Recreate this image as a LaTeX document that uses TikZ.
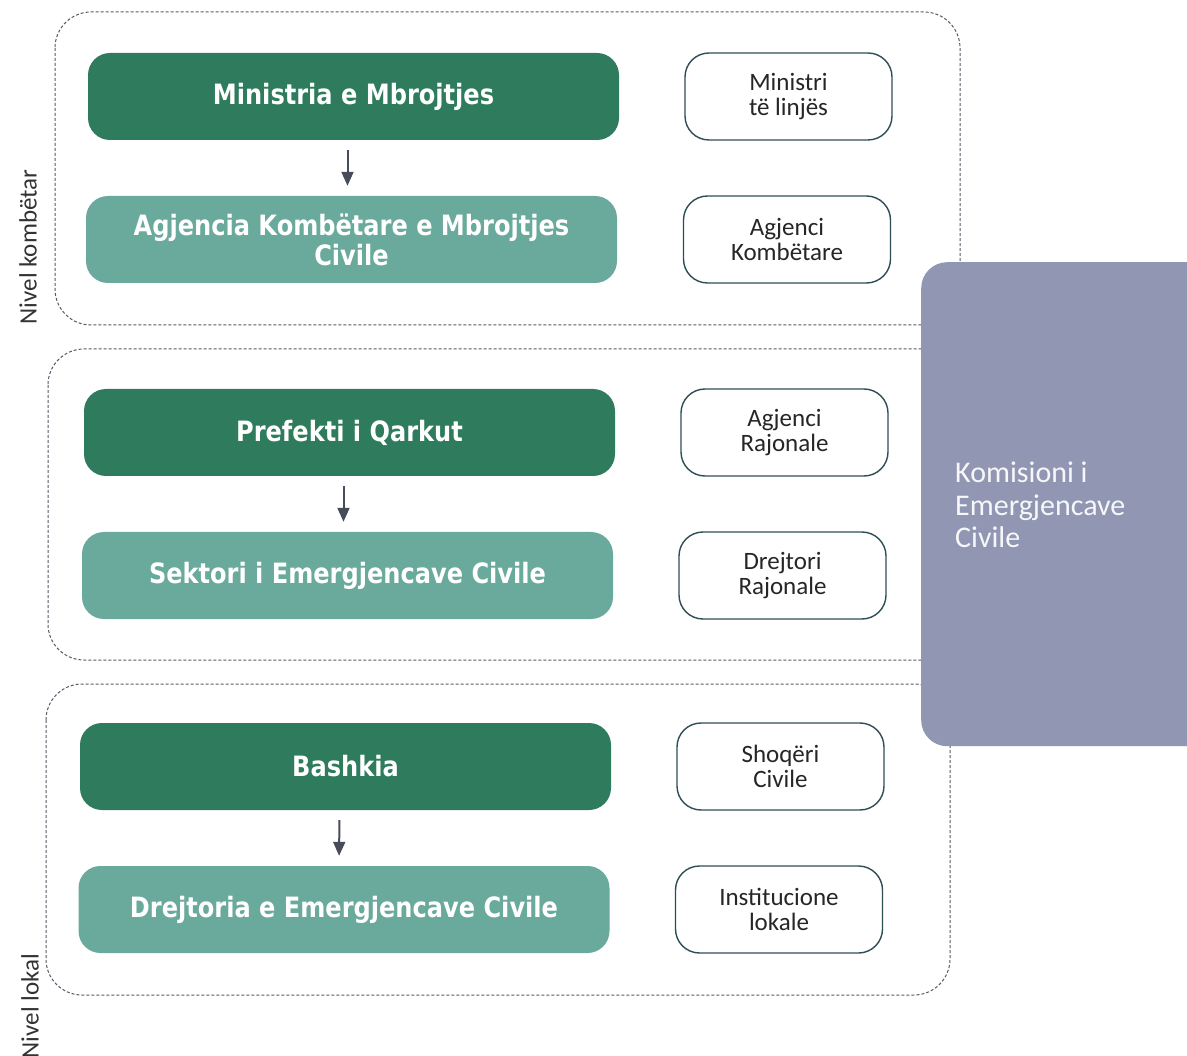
\documentclass[tikz,border=0pt]{standalone}
\usepackage{fontspec}
\usetikzlibrary{arrows.meta}
\newfontfamily\boxfont[FakeStretch=0.86]{DejaVu Sans}
\newfontfamily\sidefont{Carlito}
\definecolor{dkgreen}{HTML}{2E7B5E}
\definecolor{ltteal}{HTML}{69AA9C}
\definecolor{outl}{HTML}{2F4D55}
\definecolor{komis}{HTML}{9197B2}
\definecolor{arrowc}{HTML}{474B5A}
\definecolor{dashc}{HTML}{555A66}
\begin{document}
\begin{tikzpicture}[x=1pt,y=-1pt,
  mainbox/.style={rounded corners=22pt, minimum width=531pt, minimum height=87pt, inner sep=0pt,
    fill=dkgreen, text=white, align=center, font={\boxfont\bfseries\fontsize{28}{30}\selectfont}},
  lightbox/.style={mainbox, fill=ltteal},
  sidebox/.style={draw=outl, line width=1.4pt, fill=white, rounded corners=24pt,
    minimum width=207pt, minimum height=87pt, inner sep=0pt, align=center,
    font={\sidefont\fontsize{25}{25}\selectfont\lineskiplimit=-100pt\lineskip=0pt}, text=black!85},
  grp/.style={draw=dashc, line width=1pt, dash pattern=on 3pt off 2pt, rounded corners=36pt},
  flow/.style={draw=arrowc, line width=2pt, -{Triangle[width=12pt,length=14pt]}, shorten <=10pt, shorten >=10pt},
  lvl/.style={rotate=90, text=black!80, font={\sidefont\fontsize{25}{27}\selectfont}}
]
\useasboundingbox (0,0) rectangle (1187,1056);
\clip (0,0) rectangle (1187,1056);
\fill[white] (0,0) rectangle (1187,1056);

% dashed level groups
\draw[grp] (55,12) rectangle (960,325);
\draw[grp] (48,349) rectangle (1000,660);
\draw[grp] (46,684) rectangle (950,995);

% commission box
\node[fill=komis, rounded corners=26pt, minimum width=300pt, minimum height=484pt, inner sep=0pt,
  anchor=north west] (kom) at (921,262) {};
\node[anchor=north west, text=white!92!komis, align=left, inner sep=0pt,
  font={\sidefont\fontsize{30}{32.5}\selectfont}] (komtxt) at (955,462)
  {Komisioni i\\Emergjencave\\Civile};

% main boxes
\node[mainbox] (m1) at (353.5,96.5) {Ministria e Mbrojtjes};
\node[lightbox] (l1) at (351.5,239.5) {Agjencia Kombëtare e Mbrojtjes\\Civile};
\node[mainbox] (m2) at (349.5,432.5) {Prefekti i Qarkut};
\node[lightbox] (l2) at (347.5,575.5) {Sektori i Emergjencave Civile};
\node[mainbox] (m3) at (345.5,766.5) {Bashkia};
\node[lightbox] (l3) at (344,909.5) {Drejtoria e Emergjencave Civile};

% arrows
\draw[flow] ([xshift=-6pt]m1.south) -- ([xshift=-4pt]l1.north);
\draw[flow] ([xshift=-6pt]m2.south) -- ([xshift=-4pt]l2.north);
\draw[flow] ([xshift=-6pt]m3.south) -- ([xshift=-5pt]l3.north);

% side boxes
\node[sidebox] (s1) at (788.5,96.5) {Ministri\\të linjës};
\node[sidebox] (s2) at (787,239.5) {Agjenci\\Kombëtare};
\node[sidebox] (s3) at (784.5,432.5) {Agjenci\\Rajonale};
\node[sidebox] (s4) at (782.5,575.5) {Drejtori\\Rajonale};
\node[sidebox] (s5) at (780.5,766.5) {Shoqëri\\Civile};
\node[sidebox] (s6) at (779,909.5) {Institucione\\lokale};

% level labels
\node[lvl] (lv1) at (28,247) {Nivel kombëtar};
\node[lvl] (lv2) at (30,1006) {Nivel lokal};
\end{tikzpicture}
\end{document}
